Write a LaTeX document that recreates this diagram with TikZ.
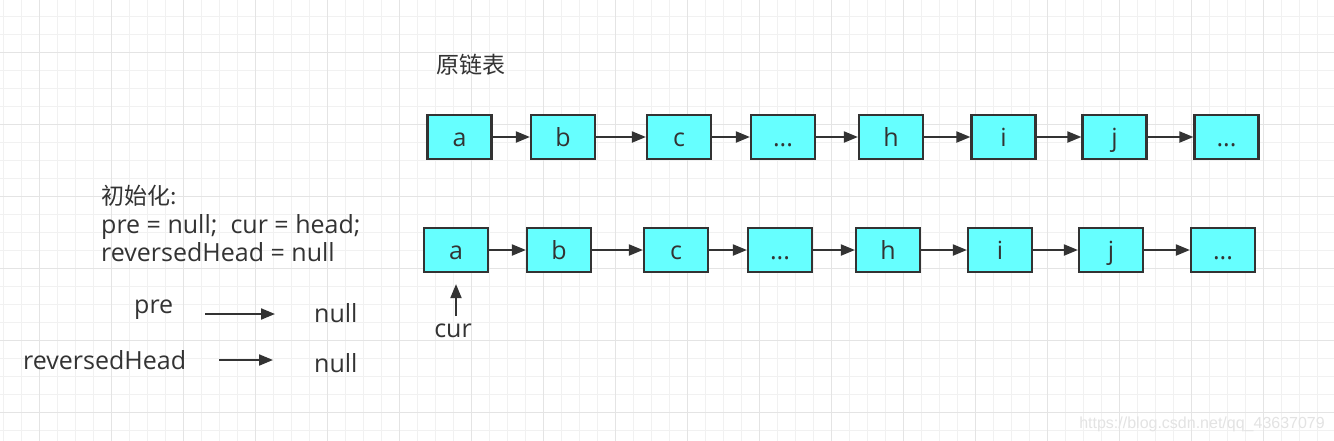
\documentclass[tikz,border=0pt]{standalone}
\usepackage{fontspec}
\setmainfont{Open Sans}
\newfontfamily\cjk{Noto Sans CJK SC}
\newfontfamily\markfont{Liberation Sans}
\usetikzlibrary{arrows.meta}
\definecolor{cianet}{HTML}{66FFFF}
\definecolor{grisfosc}{HTML}{333333}
\definecolor{grismenor}{HTML}{F1F1F1}
\definecolor{grismajor}{HTML}{E4E4E4}

\tikzset{
	nodellista/.style={draw=grisfosc, fill=cianet, line width=2.2pt, minimum width=64pt, minimum height=44pt, inner sep=0pt, text height=18pt, text depth=0pt, text=grisfosc, font=\fontsize{25}{25}\selectfont},
	fletxa/.style={draw=grisfosc, line width=2pt, -{Triangle[length=14pt,width=11pt]}},
	text llatí/.style={inner sep=0pt, text=grisfosc, font=\fontsize{25}{25}\selectfont},
	text xinès/.style={inner sep=0pt, text=grisfosc, font=\cjk\fontsize{23}{23}\selectfont}
}

\begin{document}
\begin{tikzpicture}[x=1pt,y=-1pt]
	% Fons i quadrícula
	\useasboundingbox (0,0) rectangle (1334,440);
	\fill[white] (0,0) rectangle (1334,440);
	\begin{scope}
		\clip (0,0) rectangle (1334,440);
		\draw[grismenor, line width=1pt, shift={(3pt,-16pt)}, step=18pt] (-18pt,18pt) grid (1350pt,-460pt);
		\draw[grismajor, line width=1pt, shift={(39pt,-52pt)}, step=72pt] (-72pt,72pt) grid (1400pt,-500pt);
	\end{scope}

	% Títol
	\node[text xinès, anchor=base west] (titol) at (436,73) {原链表};

	% Llista original
	\node[nodellista] (o1) at (459.5,137) {a};
	\node[nodellista] (o2) at (563,137) {b};
	\node[nodellista] (o3) at (679,137) {c};
	\node[nodellista] (o4) at (783,137) {...};
	\node[nodellista] (o5) at (891,137) {h};
	\node[nodellista] (o6) at (1003.5,137) {i};
	\node[nodellista] (o7) at (1114.5,137) {j};
	\node[nodellista] (o8) at (1226.5,137) {...};
	\draw[fletxa] (o1) -- (o2);
	\draw[fletxa] (o2) -- (o3);
	\draw[fletxa] (o3) -- (o4);
	\draw[fletxa] (o4) -- (o5);
	\draw[fletxa] (o5) -- (o6);
	\draw[fletxa] (o6) -- (o7);
	\draw[fletxa] (o7) -- (o8);

	% Llista amb cur
	\node[nodellista] (l1) at (456,250) {a};
	\node[nodellista] (l2) at (559,250) {b};
	\node[nodellista] (l3) at (676,250) {c};
	\node[nodellista] (l4) at (780,250) {...};
	\node[nodellista] (l5) at (888,250) {h};
	\node[nodellista] (l6) at (1000,250) {i};
	\node[nodellista] (l7) at (1111,250) {j};
	\node[nodellista] (l8) at (1223,250) {...};
	\draw[fletxa] (l1) -- (l2);
	\draw[fletxa] (l2) -- (l3);
	\draw[fletxa] (l3) -- (l4);
	\draw[fletxa] (l4) -- (l5);
	\draw[fletxa] (l5) -- (l6);
	\draw[fletxa] (l6) -- (l7);
	\draw[fletxa] (l7) -- (l8);

	% cur
	\node[text llatí, anchor=base] (cur) at (453,337) {cur};
	\draw[fletxa, shorten <=7pt, shorten >=11pt] (l1.south |- cur.north) -- (l1.south);

	% Inicialització
	\node[text xinès, anchor=base west] (ini1) at (101,204) {初始化:};
	\node[text llatí, anchor=base west] (ini2) at (101,233) {pre = null;\ \ cur = head;};
	\node[text llatí, anchor=base west] (ini3) at (101,261) {reversedHead = null};

	% pre i reversedHead
	\node[text llatí, anchor=base west] (pre) at (134,313) {pre};
	\node[text llatí, anchor=base west] (prenull) at (314,322) {null};
	\coordinate (preA) at (205,314);
	\coordinate (preB) at (275,314);
	\draw[fletxa] (preA) -- (preB);
	\node[text llatí, anchor=base west] (rh) at (23,369) {reversedHead};
	\node[text llatí, anchor=base west] (rhnull) at (314,372) {null};
	\coordinate (rhA) at (219,360);
	\coordinate (rhB) at (273,360);
	\draw[fletxa] (rhA) -- (rhB);

	% Marca d'aigua
	\node[anchor=base east, inner sep=0pt, text=gray!22, font=\markfont\fontsize{16}{16}\selectfont] (marca) at (1325,428) {https://blog.csdn.net/qq\_43637079};
\end{tikzpicture}
\end{document}
